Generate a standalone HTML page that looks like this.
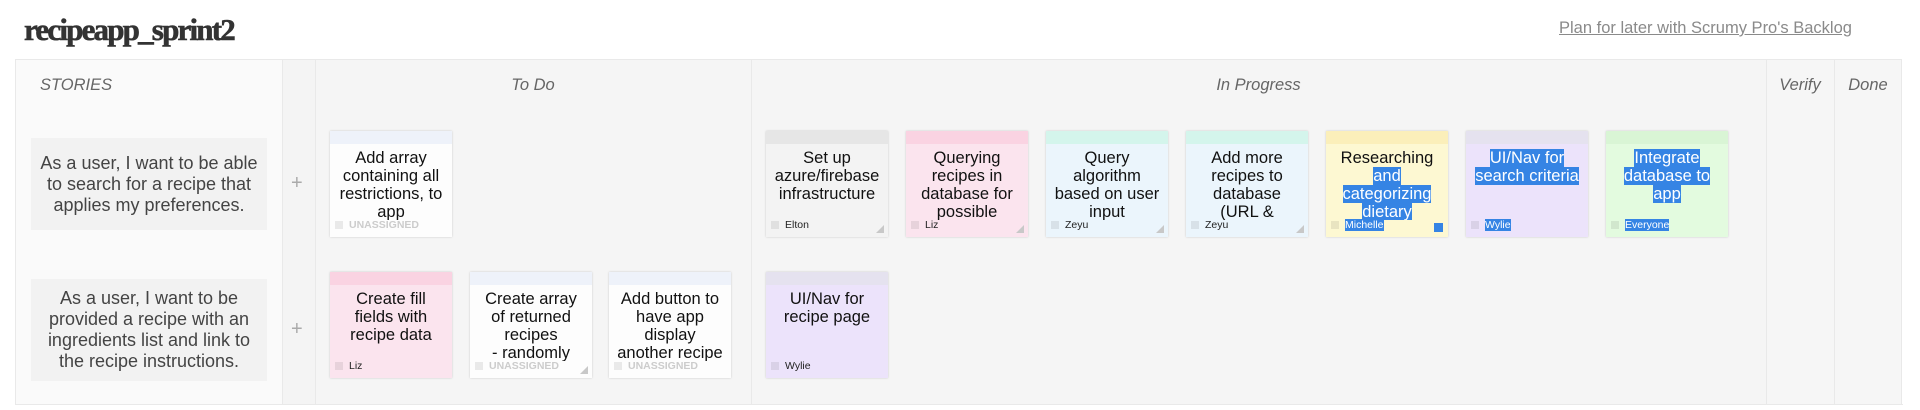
<!DOCTYPE html>
<html><head><meta charset="utf-8"><style>
*{margin:0;padding:0;box-sizing:border-box}
body{width:1920px;height:410px;background:#fff;position:relative;overflow:hidden;font-family:"Liberation Sans",Arial,sans-serif}
.abs{position:absolute}
.title{left:24px;top:12px;font:900 31px "Liberation Serif",serif;color:#333;letter-spacing:-1.8px;-webkit-text-stroke:0.6px #333}
.link{left:1559px;top:19px;font-size:16.5px;color:#8a8a8a;text-decoration:underline}
.col{position:absolute;top:59px;height:346px;border-left:1px solid #e9e9e9;border-top:1px solid #e9e9e9}
.hd{position:absolute;top:76px;font-size:16.5px;font-style:italic;color:#666;text-align:center}
.story{position:absolute;left:31px;width:236px;background:#f2f2f2;font-size:18px;line-height:21px;color:#444;text-align:center;display:flex;align-items:center;justify-content:center;padding:0 6px}
.plus{position:absolute;left:291px;font-size:20px;color:#aaa}
.card{position:absolute;width:122px;height:106px;box-shadow:0 0 2px rgba(0,0,0,.18);overflow:hidden}
.card .strip{height:13px}
.card .t{height:76px;overflow:hidden;padding:5px 6px 0;font-size:16.5px;line-height:18px;text-align:center;color:#111}
.card .f{position:absolute;left:5px;bottom:6px;font-size:10.5px;color:#222;display:flex;align-items:center}
.card .f i{display:inline-block;width:8px;height:8px;background:rgba(0,0,0,.08);margin-right:6px}
.card .f.u{color:#ccc;font-weight:bold}
.card .tri{position:absolute;right:4px;bottom:4px;width:0;height:0;border-left:8px solid transparent;border-bottom:8px solid #c8c8c8}
.sel{background:#3584e4;color:#fff}
</style></head><body>
<div class="abs title">recipeapp_sprint2</div>
<div class="abs link">Plan for later with Scrumy Pro's Backlog</div>

<div class="col" style="left:15px;width:267px;background:#fafafa"></div>
<div class="col" style="left:282px;width:33px;background:#f4f4f4"></div>
<div class="col" style="left:315px;width:436px;background:#f5f5f5"></div>
<div class="col" style="left:751px;width:1015px;background:#f5f5f5"></div>
<div class="col" style="left:1766px;width:68px;background:#f6f6f6"></div>
<div class="col" style="left:1834px;width:68px;background:#f6f6f6;border-right:1px solid #e9e9e9"></div>
<div class="abs" style="left:15px;top:404px;width:1888px;height:1px;background:#e9e9e9"></div>

<div class="hd" style="left:40px;text-align:left">STORIES</div>
<div class="hd" style="left:315px;width:436px">To Do</div>
<div class="hd" style="left:751px;width:1015px">In Progress</div>
<div class="hd" style="left:1766px;width:68px">Verify</div>
<div class="hd" style="left:1834px;width:68px">Done</div>

<div class="story" style="top:138px;height:92px">As a user, I want to be able to search for a recipe that applies my preferences.</div>
<div class="story" style="top:279px;height:102px">As a user, I want to be provided a recipe with an ingredients list and link to the recipe instructions.</div>
<div class="plus" style="top:172px">+</div>
<div class="plus" style="top:318px">+</div>

<!-- row 1 -->
<div class="card" style="left:330px;top:131px;background:#fdfdfd"><div class="strip" style="background:#eef2fa"></div><div class="t">Add array containing all restrictions, to app</div><div class="f u"><i></i>UNASSIGNED</div></div>
<div class="card" style="left:766px;top:131px;background:#f3f3f3"><div class="strip" style="background:#e6e6e6"></div><div class="t">Set up azure/firebase infrastructure</div><div class="f"><i></i>Elton</div><div class="tri"></div></div>
<div class="card" style="left:906px;top:131px;background:#fbe4ee"><div class="strip" style="background:#fad3e2"></div><div class="t">Querying recipes in database for possible</div><div class="f"><i></i>Liz</div><div class="tri"></div></div>
<div class="card" style="left:1046px;top:131px;background:#ebf5fc"><div class="strip" style="background:#d4f5ec"></div><div class="t">Query algorithm based on user input</div><div class="f"><i></i>Zeyu</div><div class="tri"></div></div>
<div class="card" style="left:1186px;top:131px;background:#ebf5fc"><div class="strip" style="background:#d4f5ec"></div><div class="t">Add more recipes to database (URL &amp;</div><div class="f"><i></i>Zeyu</div><div class="tri"></div></div>
<div class="card" style="left:1326px;top:131px;background:#fdf8d2"><div class="strip" style="background:#fbefba"></div><div class="t">Researching <span class="sel">and categorizing dietary</span></div><div class="f"><i></i><span class="sel">Michelle</span></div><div class="abs" style="right:5px;bottom:5px;width:9px;height:9px;background:#3584e4"></div></div>
<div class="card" style="left:1466px;top:131px;background:#ece3fb"><div class="strip" style="background:#e5e2ef"></div><div class="t"><span class="sel">UI/Nav for search criteria</span></div><div class="f"><i></i><span class="sel">Wylie</span></div></div>
<div class="card" style="left:1606px;top:131px;background:#e3fbdf"><div class="strip" style="background:#d9f5d5"></div><div class="t"><span class="sel">Integrate database to app</span></div><div class="f"><i></i><span class="sel">Everyone</span></div></div>

<!-- row 2 -->
<div class="card" style="left:330px;top:272px;background:#fbe4ee"><div class="strip" style="background:#fad3e2"></div><div class="t">Create fill fields with recipe data</div><div class="f"><i></i>Liz</div></div>
<div class="card" style="left:470px;top:272px;background:#fdfdfd"><div class="strip" style="background:#eef2fa"></div><div class="t">Create array of returned recipes<br>- randomly</div><div class="f u"><i></i>UNASSIGNED</div><div class="tri"></div></div>
<div class="card" style="left:609px;top:272px;background:#fdfdfd"><div class="strip" style="background:#eef2fa"></div><div class="t">Add button to have app display another recipe</div><div class="f u"><i></i>UNASSIGNED</div></div>
<div class="card" style="left:766px;top:272px;background:#ece3fb"><div class="strip" style="background:#e5e2ef"></div><div class="t">UI/Nav for recipe page</div><div class="f"><i></i>Wylie</div></div>
</body></html>
